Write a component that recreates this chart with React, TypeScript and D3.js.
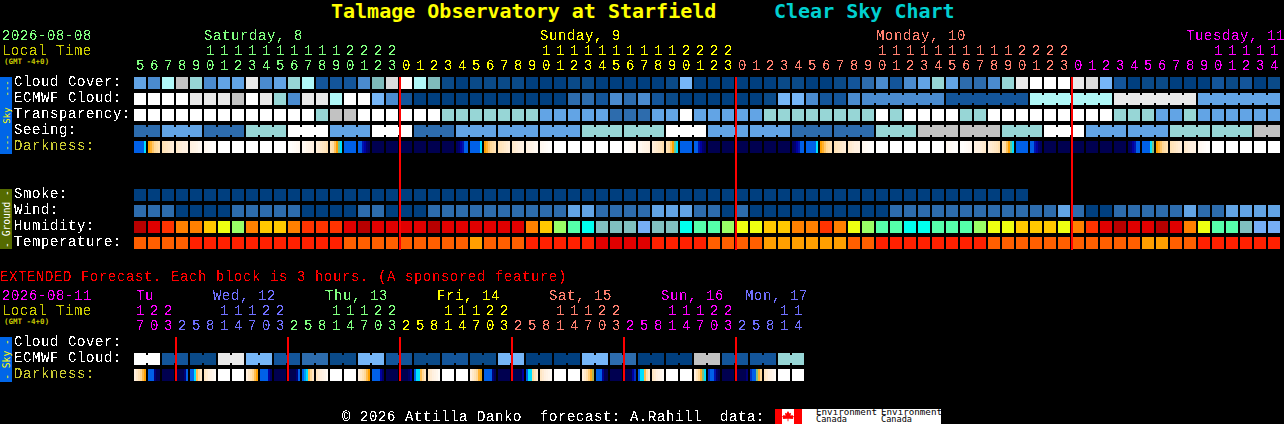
import React from "react";
import * as d3 from "d3";

const W = 1284, H = 424;
const FONT = "'Liberation Mono', monospace";
const BOLD = "'DejaVu Sans Mono', monospace";

// hours
const mainHours = [5,6,7,8,9,10,11,12,13,14,15,16,17,18,19,20,21,22,23,
  0,1,2,3,4,5,6,7,8,9,10,11,12,13,14,15,16,17,18,19,20,21,22,23,
  0,1,2,3,4,5,6,7,8,9,10,11,12,13,14,15,16,17,18,19,20,21,22,23,
  0,1,2,3,4,5,6,7,8,9,10,11,12,13,14];
const mainHourDays = [19, 24, 24, 15];
const mainDayColors = ["#80ff80", "#ffff00", "#ff8070", "#ff00ff"];
const mainDayLabels = [
  { t: "Saturday, 8", x: 204 }, { t: "Sunday, 9", x: 540 },
  { t: "Monday, 10", x: 876 }, { t: "Tuesday, 11", x: 1186 },
];
const extHours = [17,20,23, 2,5,8,11,14,17,20,23, 2,5,8,11,14,17,20,23, 2,5,8,11,14,17,20,23,
  2,5,8,11,14,17,20,23, 2,5,8,11,14,17,20,23, 2,5,8,11,14];
const extHourDays = [3, 8, 8, 8, 8, 8, 5];
const extDayColors = ["#ff00ff", "#7070ff", "#80ff80", "#ffff00", "#ff8070", "#ff00ff", "#7070ff"];
const extDayLabels = [
  { t: "Tu", x: 136 }, { t: "Wed, 12", x: 213 }, { t: "Thu, 13", x: 325 }, { t: "Fri, 14", x: 437 },
  { t: "Sat, 15", x: 549 }, { t: "Sun, 16", x: 661 }, { t: "Mon, 17", x: 745 },
];

// rows (percent scale, estimated from block colours)
const cloudCover = [40,30,60,80,70,30,40,40,90,30,40,70,60,10,10,10,30,65,85,100,60,
  65,5,0,5,5,5,5,0,0,0,5,5,0,0,0,0,0,5,50,0,0,0,0,0,0,5,5,0,0,5,10,
  20,30,10,30,40,70,40,20,20,30,70,90,100,100,100,90,85,50,10,0,5,5,0,0,0,10,5,10,0,5];
const ecmwf = [100,100,100,100,90,90,90,80,100,90,70,30,90,90,60,100,100,50,30,10,0,
  0,0,0,0,0,0,0,0,0,0,20,20,10,30,20,30,10,5,0,0,0,0,0,0,5,50,50,30,10,10,30,
  30,30,30,30,30,30,10,10,10,10,10,10,60,60,60,60,60,60,90,90,90,90,90,90,40,40,40,40,40,40];
const ecmwfRuns = [1,1,1,1,1,1,1,1,1,1,1,1,1,1,1,1,1,1,1,1,1,1,1,1,1,1,1,1,1,1,1,1,1,1,1,1,1,1,1,1,1,1,1,1,1,1,1,1,1,1,1,1,6,6,6,6,6];
const transparency = [100,100,100,100,100,100,100,100,100,100,100,100,100,70,80,80,100,100,100,100,100,
  100,70,70,70,70,70,70,70,40,40,40,40,40,20,20,20,40,40,100,40,40,40,40,40,70,70,70,70,70,70,70,
  70,100,70,100,100,100,100,70,70,100,100,100,100,100,100,100,100,100,70,70,70,40,40,70,40,40,40,40,40,40];
const seeing = [20,20,40,40,40,20,20,20,70,70,70,100,100,100,40,40,40,100,100,100,20,20,20,
  40,40,40,40,40,40,40,40,40,70,70,70,70,70,70,100,100,100,40,40,40,40,40,40,20,20,20,20,20,20,
  70,70,70,80,80,80,80,80,80,70,70,70,100,100,100,40,40,40,40,40,40,70,70,70,70,70,70,80,80];
const seeingRuns = [2,3,3,3,3,3,3,3,3,3,3,3,3,3,3,3,3,3,3,3,3,3,3,3,3,3,3,2];
const smoke = [0,0,0,0,0,0,0,0,0,0,0,0,0,0,0,0,0,0,0,0,0,0,0,0,0,0,0,0,0,0,0,0,
  0,0,0,0,0,0,0,0,0,0,0,0,0,0,0,0,0,0,0,0,0,0,0,0,0,0,0,0,0,0,0,0];
const wind = [20,20,20,0,0,0,0,20,20,20,20,20,0,0,0,0,20,20,0,0,0,
  20,20,20,20,20,20,20,20,20,20,40,40,20,20,20,20,40,40,40,20,20,0,20,0,0,0,0,0,0,0,0,
  0,0,20,20,20,20,20,20,20,20,20,20,20,20,40,20,0,0,20,20,20,20,20,40,20,20,40,40,40,40];
const humidity = [100,95,90,80,80,70,60,50,80,70,70,80,90,90,90,95,100,95,95,95,95,
  100,95,95,95,95,95,95,80,70,50,45,40,35,35,35,30,35,35,40,45,45,50,60,60,70,70,80,80,90,80,60,
  50,45,45,40,40,45,45,45,50,60,60,70,70,70,60,80,90,95,100,95,95,100,95,80,60,45,45,35,30,30];
const temperature = ["b","b","b","b","c","c","c","c","c","c","c","c","c","c","c","b","b","b","b","b","b",
  "b","b","b","a","b","b","b","c","c","c","c","c","d","d","d","d","c","c","c","c","b","b","b","b","a","a","a","a","a","a","b",
  "b","c","c","c","c","c","c","c","c","b","b","b","b","b","b","b","b","b","b","b","a","a","b","b","c","c","c","c","c","c"];

const extEcmwf = [100,10,5,90,50,10,20,5,50,10,5,10,5,50,0,0,50,20,0,0,80,10,10,70];

// darkness: level samples across each block, navy (0) to white (7)
const N = [0,0,0,0,0,0], Wh = [7,7,7,7,7,7], S = [2,2,2,2,2,2];
const bt = [2,2,2,2,2,3], p1 = [4,4.3,4.7,5,5.2,5.4], p2 = [5.4,5.5,5.6,5.7,5.8,5.9];
const p3 = [5.7,5.8,5.9,6,6,6.1], p4 = [6,6.1,6.2,6.3,6.5,6.6], p5 = [6.5,6.6,6.7,6.8,6.9,6.9];
const r5 = [6.9,6.9,6.8,6.7,6.6,6.5], r4 = [6.6,6.5,6.3,6.2,6.1,6], r3 = [6.1,6,6,5.9,5.8,5.7], r2 = [5.9,5.8,5.7,5.6,5.5,5.3];
const dusk = [5.4,5.2,4.6,4,3.4,3], fall = [2,2,1.2,1,0.4,0.2], rise = [0.2,0.4,1,1.2,2,2];
const darkness = [bt,p1,p2,p3,p4,p5,Wh,Wh,Wh,Wh,Wh,r5,r4,r2,dusk,S,fall,N,N,N,N,N,N,rise,
  bt,p1,p2,p3,p4,p5,Wh,Wh,Wh,Wh,Wh,r5,r4,r2,dusk,S,fall,N,N,N,N,N,N,rise,
  bt,p1,p2,p3,p5,Wh,Wh,Wh,Wh,Wh,p5,r5,r3,r2,dusk,S,fall,N,N,N,N,N,N,rise,
  [2,2,2,2,3,3.5],p1,p2,p3,p5,Wh,Wh,Wh,Wh,Wh];
const dim = [5.6,5.8,6,6.2,6.4,6.7];
const extDarkness = [
  [6,5.7,5.4,5,4.5,4],[2,2,2,0.5,0,0],N,[0,0,0,0,0.5,2],[2,2,3,4.5,5,5.6],dim,Wh,Wh,
  [6,5.7,5.4,5,4.5,4],[2,2,2,2,1,0.3],N,[0,0,0,0,0.5,2],[2,2.5,3,4.5,5,5.6],dim,Wh,Wh,
  [6,5.7,5.4,5,4.5,4],[2,2,2,2,1,0.3],N,[0,0,0,0,0.3,1],[2,3,3,4.5,5,5.6],dim,Wh,Wh,
  [6,5.7,5.4,5,4.3,3.9],[2,2,2,2,0.5,0],N,[0,0,0,0,0,1],[2,3,3,5,5.5,5.8],dim,Wh,Wh,
  [6,5.7,5.3,4.8,4.2,3.7],[2,2,2,0.8,0,0],N,[0,0,0,0,1,1.5],[2,3,3,4.5,5.3,5.7],dim,Wh,Wh,
  [6,5.5,5,4.3,3.5,3],[1.5,2,2,1.2,0.3,0],N,[0,0,0,0,0,0.5],[1.5,2,2,3.5,4.3,5],dim,Wh,Wh,
];

const midnightCols = [19, 43, 67];
const extMidnightCols = [3, 11, 19, 27, 35, 43];

// scales
const colX = d3.scaleLinear().domain([0, 82]).range([134, 1282]);
const cloudColor = d3.scaleOrdinal<number, string>()
  .domain([0,5,10,20,30,40,50,60,65,70,80,85,90,100])
  .range(["#003f7f","#0a4a88","#13559a","#2d6cad","#4a8bcf","#62a4e5","#76b6f7","#b0f8f8","#7fbbbb","#97d6d6","#c2c2c2","#dadada","#e9e9e9","#ffffff"]);
const humidityColor = d3.scaleOrdinal<number, string>()
  .domain([100,95,90,80,70,60,50,45,40,35,30])
  .range(["#b80000","#e00000","#ff3300","#ff8000","#ffc800","#eeff11","#99ff66","#55ffaa","#00ffee","#80bfbf","#76aef6"]);
const tempColor = d3.scaleOrdinal<string, string>()
  .domain(["a","b","c","d"]).range(["#ff9f00","#ff5f00","#ff2000","#e00000"]);
const darkColor = d3.scaleLinear<string>()
  .domain([0,1,2,3,4,5,6,7])
  .range(["#000050","#0000a0","#0060e8","#00e0ff","#ffa000","#ffd898","#fff0e0","#ffffff"]);

const CW = 12, CH = 12;

function Blocks({ y, colors, runs }: { y: number; colors: string[]; runs?: number[] }) {
  const joins: { i: number; c: string }[] = [];
  if (runs) {
    let at = 0;
    runs.forEach((r) => {
      for (let k = 0; k < r - 1; k++) joins.push({ i: at + k, c: colors[at + k] });
      at += r;
    });
  }
  return (
    <g shapeRendering="crispEdges">
      {colors.map((c, i) => <rect key={i} x={colX(i)} y={y} width={CW} height={CH} fill={c} />)}
      {joins.map((j) => <rect key={"j" + j.i} x={colX(j.i) + CW} y={y + 2} width={2} height={CH - 4} fill={j.c} />)}
    </g>
  );
}

function Dark({ y, rows }: { y: number; rows: number[][] }) {
  return (
    <g shapeRendering="crispEdges">
      {rows.map((lv, i) => lv.map((v, k) => (
        <rect key={i + "-" + k} x={colX(i) + k * 2} y={y} width={2} height={CH} fill={darkColor(v)} />
      )))}
    </g>
  );
}

function T({ x, y, c = "#fff", s = 14, w, children }: any) {
  const isBold = w === "bold";
  return (
    <text x={x} y={y} fill={c} fontSize={s} fontWeight={w} filter={isBold ? undefined : "url(#crisp)"}
      letterSpacing={s === 14 ? 0.6 : undefined}
      fontFamily={isBold ? BOLD : FONT} xmlSpace="preserve" style={{ whiteSpace: "pre" }}>{children}</text>
  );
}

function Hours({ hours, spans, colors, yTens, yUnits }: any) {
  const cols: string[] = [];
  spans.forEach((n: number, d: number) => { for (let k = 0; k < n; k++) cols.push(colors[d]); });
  return (
    <g>
      {hours.map((h: number, i: number) => (
        <g key={i}>
          {h >= 10 && <T x={colX(i) + 2} y={yTens} c={cols[i]}>{Math.floor(h / 10)}</T>}
          <T x={colX(i) + 2} y={yUnits} c={cols[i]}>{h % 10}</T>
        </g>
      ))}
    </g>
  );
}

function Side({ y, h, fill, c, text, s = 9.6 }: any) {
  const cy = y + h / 2;
  return (
    <g>
      <rect x={0} y={y} width={12} height={h} fill={fill} shapeRendering="crispEdges" />
      <text transform={`translate(9.5,${cy}) rotate(-90)`} textAnchor="middle" fill={c} fontSize={s} fontFamily={BOLD} xmlSpace="preserve" style={{ whiteSpace: "pre" }}>{text}</text>
    </g>
  );
}

function RedLines({ cols, y0, y1 }: { cols: number[]; y0: number; y1: number }) {
  return (
    <g shapeRendering="crispEdges">
      {cols.map((c) => <rect key={c} x={colX(c) - 1} y={y0} width={2} height={y1 - y0} fill="#ff0000" />)}
    </g>
  );
}

export default function App() {
  return (
    <svg width={W} height={H} viewBox={`0 0 ${W} ${H}`} style={{ position: "absolute", left: 0, top: 0, display: "block" }}>
      <defs>
        <filter id="crisp" x="-20%" y="-20%" width="140%" height="140%" colorInterpolationFilters="sRGB">
          <feComponentTransfer>
            <feFuncA type="discrete" tableValues="0 0 1 1" />
          </feComponentTransfer>
        </filter>
      </defs>
      <rect width={W} height={H} fill="#000" />

      <T x={331} y={18} c="#ffff00" s={20} w="bold">Talmage Observatory at Starfield</T>
      <T x={774} y={18} c="#00d0d0" s={20} w="bold">Clear Sky Chart</T>

      <T x={2} y={40} c="#80ff80">2026-08-08</T>
      <T x={2} y={55} c="#c8c800">Local Time</T>
      <T x={4} y={64} c="#c8c800" s={7.5} w="bold">(GMT -4+0)</T>
      {mainDayLabels.map((d, i) => <T key={i} x={d.x} y={40} c={mainDayColors[i]}>{d.t}</T>)}
      <Hours hours={mainHours} spans={mainHourDays} colors={mainDayColors} yTens={55} yUnits={70} />

      <T x={14} y={86}>Cloud Cover:</T>
      <T x={14} y={102}>ECMWF Cloud:</T>
      <T x={14} y={118}>Transparency:</T>
      <T x={14} y={134}>Seeing:</T>
      <T x={14} y={150} c="#c8c832">Darkness:</T>
      <Side y={77} h={77} fill="#0066e8" c="#ffff00" text="---  Sky  ---" s={9} />

      <Blocks y={77} colors={cloudCover.map((v) => cloudColor(v))} />
      <Blocks y={93} colors={ecmwf.map((v) => cloudColor(v))} runs={ecmwfRuns} />
      <Blocks y={109} colors={transparency.map((v) => cloudColor(v))} />
      <Blocks y={125} colors={seeing.map((v) => cloudColor(v))} runs={seeingRuns} />
      <Dark y={141} rows={darkness} />

      <T x={14} y={198}>Smoke:</T>
      <T x={14} y={214}>Wind:</T>
      <T x={14} y={230}>Humidity:</T>
      <T x={14} y={246}>Temperature:</T>
      <Side y={189} h={60} fill="#556b00" c="#ffffff" text="- Ground -" />

      <Blocks y={189} colors={smoke.map((v) => cloudColor(v))} />
      <Blocks y={205} colors={wind.map((v) => cloudColor(v))} />
      <Blocks y={221} colors={humidity.map((v) => humidityColor(v))} />
      <Blocks y={237} colors={temperature.map((v) => tempColor(v))} />
      <RedLines cols={midnightCols} y0={77} y1={250} />

      <T x={0} y={281} c="#ff0000">EXTENDED Forecast. Each block is 3 hours. (A sponsored feature)</T>
      <T x={2} y={300} c="#ff00ff">2026-08-11</T>
      <T x={2} y={315} c="#c8c800">Local Time</T>
      <T x={4} y={324} c="#c8c800" s={7.5} w="bold">(GMT -4+0)</T>
      {extDayLabels.map((d, i) => <T key={i} x={d.x} y={300} c={extDayColors[i]}>{d.t}</T>)}
      <Hours hours={extHours} spans={extHourDays} colors={extDayColors} yTens={315} yUnits={330} />

      <T x={14} y={346}>Cloud Cover:</T>
      <T x={14} y={362}>ECMWF Cloud:</T>
      <T x={14} y={378} c="#c8c832">Darkness:</T>
      <Side y={337} h={45} fill="#0066e8" c="#ffff00" text="- Sky -" />

      <Blocks y={353} colors={extEcmwf.flatMap((v) => [cloudColor(v), cloudColor(v)])} runs={extEcmwf.map(() => 2)} />
      <Dark y={369} rows={extDarkness} />
      <RedLines cols={extMidnightCols} y0={337} y1={381} />

      <T x={342} y={421}>{"© 2026 Attilla Danko  forecast: A.Rahill  data:"}</T>
      <g>
        <rect x={775} y={409} width={166} height={15} fill="#fff" shapeRendering="crispEdges" />
        <rect x={775} y={409} width={7} height={15} fill="#ff0000" shapeRendering="crispEdges" />
        <rect x={794} y={409} width={8} height={15} fill="#ff0000" shapeRendering="crispEdges" />
        <path d="M788 411 l1.5 2.5 1.5 -0.7 -0.5 3 2 -0.7 0.6 1.2 1.2 -0.2 -1.5 2 0.6 1 -3.8 -0.3 -1.2 0 v2.5 h-0.8 v-2.5 l-1.2 0 -3.8 0.3 0.6 -1 -1.5 -2 1.2 0.2 0.6 -1.2 2 0.7 -0.5 -3 1.5 0.7z" fill="#ff0000" />
        {[816, 881].map((x) => (
          <g key={x}>
            <text x={x} y={415} fontSize={8} fill="#000" fontFamily={BOLD} textLength={61} lengthAdjust="spacingAndGlyphs">Environment</text>
            <text x={x} y={422} fontSize={8} fill="#000" fontFamily={BOLD} textLength={31} lengthAdjust="spacingAndGlyphs">Canada</text>
          </g>
        ))}
      </g>
    </svg>
  );
}
